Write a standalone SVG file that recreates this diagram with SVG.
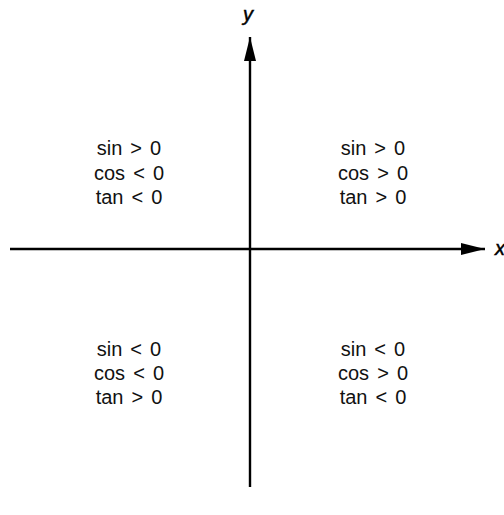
<svg xmlns="http://www.w3.org/2000/svg" width="504" height="515" viewBox="0 0 504 515">
<defs>
<style>
.t{font-family:"Liberation Sans",Arial,sans-serif;font-size:20px;word-spacing:2.5px;fill:#111;text-anchor:middle}
.ax{stroke:#000;stroke-width:2.4;fill:none}
.lab{font-family:"Liberation Sans",Arial,sans-serif;font-size:20px;font-style:italic;fill:#000;stroke:#000;stroke-width:0.5}
</style>
<marker id="arr" viewBox="0 0 24 14" refX="24" refY="7" markerWidth="24" markerHeight="14" markerUnits="userSpaceOnUse" orient="auto">
<path d="M0,1 L24,7 L0,13 Z" fill="#000"/>
</marker>
</defs>
<rect width="504" height="515" fill="#fff"/>
<g id="connectors">
<line class="ax" x1="10" y1="249" x2="485" y2="249" marker-end="url(#arr)"/>
<line class="ax" x1="250" y1="487" x2="250" y2="37" marker-end="url(#arr)"/>
</g>
<g id="x-label"><text class="lab" x="495" y="255">x</text></g>
<g id="y-label"><text class="lab" x="243" y="21">y</text></g>
<g id="q2">
<text class="t" x="129" y="155">sin &gt; 0</text>
<text class="t" x="129" y="180">cos &lt; 0</text>
<text class="t" x="129" y="204">tan &lt; 0</text>
</g>
<g id="q1">
<text class="t" x="373" y="155">sin &gt; 0</text>
<text class="t" x="373" y="180">cos &gt; 0</text>
<text class="t" x="373" y="204">tan &gt; 0</text>
</g>
<g id="q3">
<text class="t" x="129" y="356">sin &lt; 0</text>
<text class="t" x="129" y="380">cos &lt; 0</text>
<text class="t" x="129" y="404">tan &gt; 0</text>
</g>
<g id="q4">
<text class="t" x="373" y="356">sin &lt; 0</text>
<text class="t" x="373" y="380">cos &gt; 0</text>
<text class="t" x="373" y="404">tan &lt; 0</text>
</g>
</svg>
